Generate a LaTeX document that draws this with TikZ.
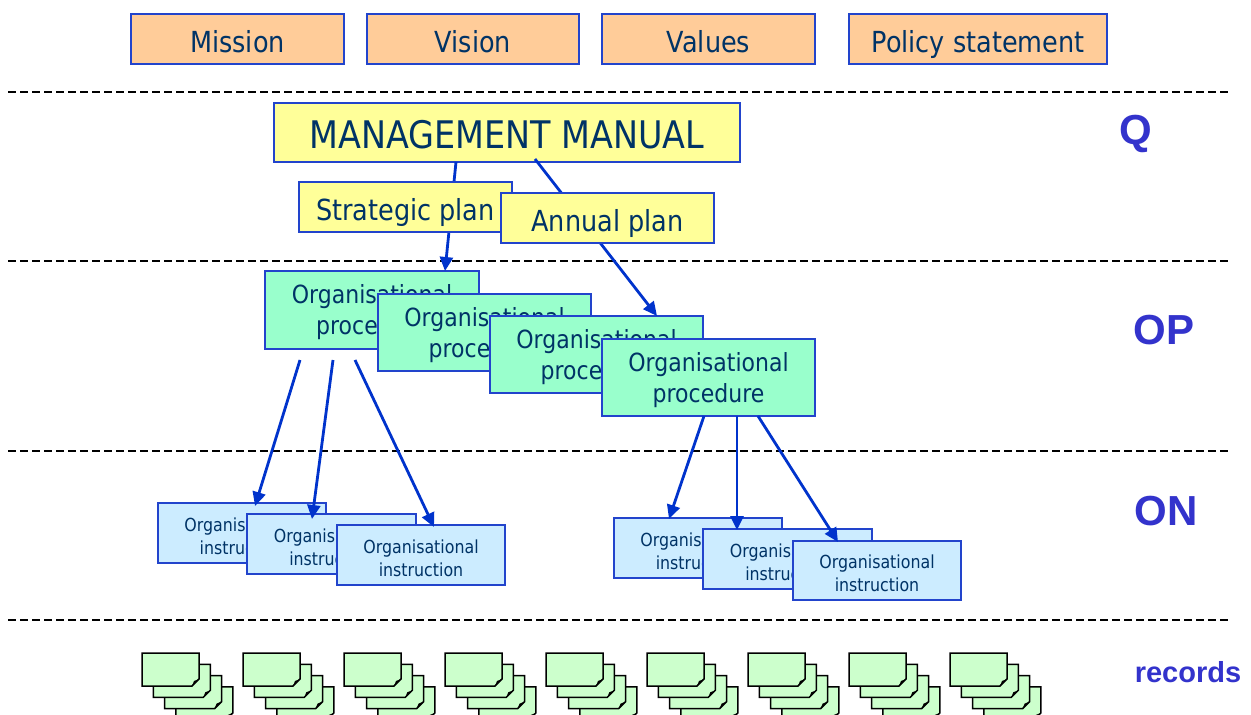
\documentclass[tikz,border=0pt]{standalone}
\usepackage{fontspec}
\setmainfont{DejaVu Sans}[FakeStretch=0.88]
\newfontfamily\lblfont{Liberation Sans}[BoldFont={Liberation Sans Bold}]
\usetikzlibrary{arrows.meta}
\definecolor{txt}{RGB}{0,51,102}
\definecolor{bord}{RGB}{34,68,204}
\definecolor{orangefill}{RGB}{255,204,153}
\definecolor{yellowfill}{RGB}{255,255,153}
\definecolor{greenfill}{RGB}{153,255,204}
\definecolor{bluefill}{RGB}{204,236,255}
\definecolor{recfill}{RGB}{204,255,204}
\definecolor{arr}{RGB}{0,51,204}
\definecolor{lbl}{RGB}{51,51,204}
\tikzset{
  box/.style={draw=bord, line width=1.3pt, text=txt, align=center, inner sep=0pt},
  topbox/.style={box, fill=orangefill, minimum height=50pt, text height=26pt, text depth=0pt, font=\fontsize{29}{34}\selectfont},
  mmbox/.style={box, fill=yellowfill, minimum width=466pt, minimum height=59pt, text height=31pt, text depth=0pt, font=\fontsize{38}{44}\selectfont},
  planbox/.style={box, fill=yellowfill, minimum width=213pt, minimum height=50pt, text height=26pt, text depth=0pt, font=\fontsize{29}{34}\selectfont},
  opbox/.style={box, fill=greenfill, minimum width=213pt, minimum height=77pt, text height=55pt, font=\fontsize{25}{31}\selectfont},
  inbox/.style={box, fill=bluefill, minimum width=168pt, minimum height=60pt, text height=42.5pt, font=\fontsize{18}{23}\selectfont},
  sep/.style={line width=2pt, dash pattern=on 8pt off 4pt},
  link/.style={draw=arr, line width=2.8pt, -{Triangle[length=14pt,width=13pt]}},
  lvl/.style={text=lbl, font=\lblfont\bfseries\fontsize{42}{46}\selectfont},
  sheet/.style={draw=black, line width=1.5pt, fill=recfill},
}
\begin{document}
\begin{tikzpicture}[x=1pt,y=-1pt]
\useasboundingbox (0,0) rectangle (1251,715);
\fill[white] (0,0) rectangle (1251,715);

% top boxes
\node[topbox, minimum width=213pt] (mission) at (237.5,39) {Mission};
\node[topbox, minimum width=212pt] (vision) at (473,39) {Vision};
\node[topbox, minimum width=213pt] (values) at (708.5,39) {Values};
\node[topbox, minimum width=258pt] (policy) at (978,39) {Policy statement};

% separators
\coordinate (s1l) at (8,92);   \coordinate (s1r) at (1231,92);
\coordinate (s2l) at (8,261);  \coordinate (s2r) at (1231,261);
\coordinate (s3l) at (8,451);  \coordinate (s3r) at (1231,451);
\coordinate (s4l) at (8,620);  \coordinate (s4r) at (1231,620);
\draw[sep] (s1l) -- (s1r);
\draw[sep] (s2l) -- (s2r);
\draw[sep] (s3l) -- (s3r);
\draw[sep] (s4l) -- (s4r);

% level labels
\node[lvl] (lq) at (1136,134) {Q};
\node[lvl] (lop) at (1164,330) {OP};
\node[lvl] (lon) at (1166,511) {ON};
\node[text=lbl, font=\lblfont\bfseries\fontsize{29}{32}\selectfont] (lrec) at (1188,672) {records};

% management manual
\node[mmbox] (mm) at (507,132.5) {MANAGEMENT MANUAL};

% procedures
\node[opbox, minimum width=214pt, minimum height=78pt] (op1) at (372,310) {Organisational\\procedure};
\node[opbox] (op2) at (484.5,332.5) {Organisational\\procedure};
\node[opbox] (op3) at (596.5,354.5) {Organisational\\procedure};
\node[opbox] (op4) at (708.5,377.5) {Organisational\\procedure};

% arrows from the manual, passing behind the plans
\coordinate (m1) at (456,162);
\coordinate (p1) at (445,271);
\coordinate (m2) at (535,159);
\coordinate (p3) at (657,316);
\draw[link] (m1) -- (p1);
\draw[link] (m2) -- (p3);

% plans
\node[planbox] (sp) at (405.5,207) {Strategic plan};
\node[planbox] (ap) at (607.5,218) {Annual plan};

% instructions, left group
\node[inbox] (l1) at (242,533) {Organisational\\instruction};
\node[inbox, minimum width=169pt] (l2) at (331.5,544) {Organisational\\instruction};
\node[inbox] (l3) at (421,555) {Organisational\\instruction};
% instructions, right group
\node[inbox] (r1) at (698,548) {Organisational\\instruction};
\node[inbox, minimum width=169pt] (r2) at (787.5,559) {Organisational\\instruction};
\node[inbox, minimum height=59pt] (r3) at (877,570.5) {Organisational\\instruction};

% arrows from procedures to instructions
\coordinate (a1) at (300,360);  \coordinate (e1) at (255,506);
\coordinate (a2) at (333,360);  \coordinate (e2) at (312,519);
\coordinate (a3) at (355,360);  \coordinate (e3) at (434,527);
\coordinate (b1) at (704,416);  \coordinate (f1) at (669,519);
\coordinate (b2) at (737,416);  \coordinate (f2) at (737,530);
\coordinate (b3) at (758,416);  \coordinate (f3) at (838,542);
\draw[link] (a1) -- (e1);
\draw[link] (a2) -- (e2);
\draw[link] (a3) -- (e3);
\draw[link] (b1) -- (f1);
\draw[link] (b2) -- (f2);
\draw[link] (b3) -- (f3);

% records stacks
\foreach \i in {0,...,8}{
  \foreach \k in {3,2,1,0}{
    \begin{scope}[shift={(142+101*\i+11.3*\k, 653+11.3*\k)}]
      \draw[sheet] (0,0) -- (57,0) -- (57,26) -- (50,33) -- (0,33) -- cycle;
      \fill[black] (50,33) -- (52,28) -- (57,26) -- cycle;
    \end{scope}
  }
}
\end{tikzpicture}
\end{document}
